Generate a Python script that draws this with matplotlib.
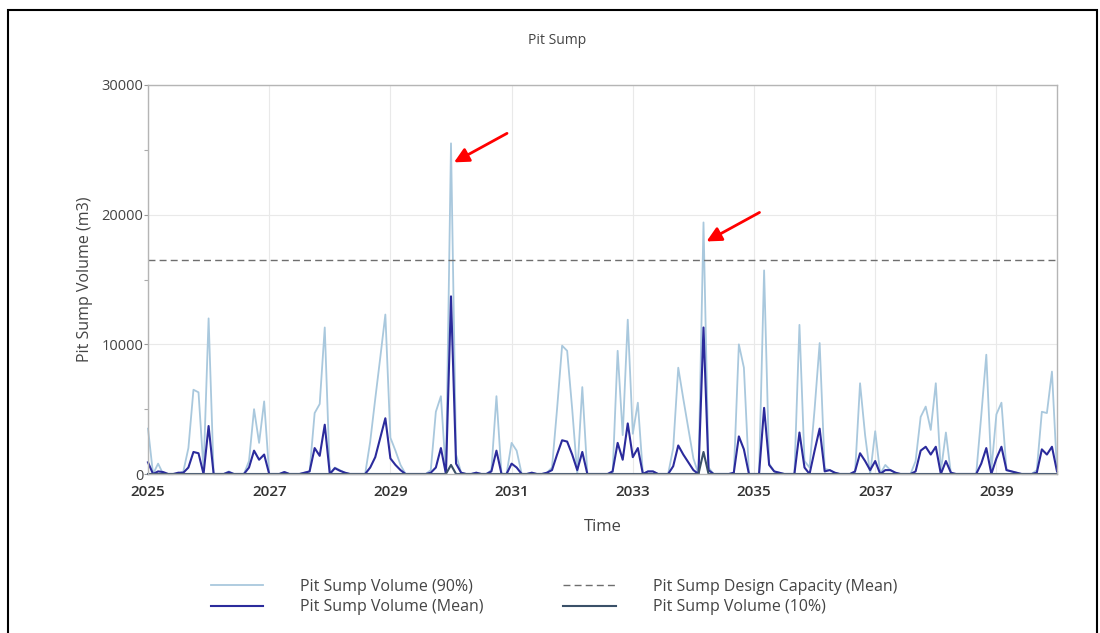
import matplotlib.pyplot as plt
from matplotlib.patches import Rectangle
from matplotlib.transforms import offset_copy


START_YEAR = 2025
YEAR_TICKS = [2025, 2027, 2029, 2031, 2033, 2035, 2037, 2039]

# monthly values, one row per year (Jan..Dec), last row = Jan 2040
SUMP_P90 = [
	3500, 0, 800, 0, 0, 0, 0, 200, 2000, 6500, 6300, 300,
	12000, 0, 0, 0, 200, 0, 0, 0, 1000, 5000, 2400, 5600,
	0, 0, 0, 150, 0, 0, 0, 100, 200, 4700, 5400, 11300,
	0, 500, 300, 100, 0, 0, 0, 0, 2500, 5800, 9000, 12300,
	2800, 1800, 700, 0, 0, 0, 0, 0, 300, 4800, 6000, 0,
	25500, 1500, 100, 0, 0, 100, 0, 0, 300, 6000, 0, 0,
	2400, 1800, 0, 0, 100, 0, 0, 100, 500, 5000, 9900, 9500,
	5000, 0, 6700, 0, 0, 0, 0, 0, 0, 9500, 3000, 11900,
	3100, 5500, 0, 200, 200, 0, 0, 0, 2000, 8200, 5800, 3500,
	1200, 0, 19400, 500, 0, 0, 0, 0, 0, 10000, 8200, 0,
	0, 0, 15700, 800, 200, 100, 0, 0, 0, 11500, 1000, 500,
	5000, 10100, 400, 300, 100, 0, 0, 0, 0, 7000, 3000, 0,
	3300, 0, 700, 300, 100, 0, 0, 0, 1000, 4400, 5200, 3400,
	7000, 200, 3200, 0, 0, 0, 0, 0, 0, 4500, 9200, 300,
	4600, 5500, 300, 200, 100, 0, 0, 0, 300, 4800, 4700, 7900,
	200,
]

SUMP_MEAN = [
	900, 0, 200, 150, 0, 0, 100, 100, 500, 1700, 1600, 0,
	3700, 0, 0, 0, 150, 0, 0, 0, 500, 1800, 1100, 1500,
	0, 0, 0, 150, 0, 0, 0, 100, 200, 2000, 1400, 3800,
	0, 450, 250, 100, 0, 0, 0, 0, 500, 1300, 2800, 4300,
	1200, 700, 300, 0, 0, 0, 0, 0, 100, 500, 2000, 0,
	13700, 800, 100, 0, 0, 100, 0, 0, 200, 1800, 0, 0,
	800, 500, 0, 0, 100, 0, 0, 100, 300, 1500, 2600, 2500,
	1500, 300, 1700, 0, 0, 0, 0, 0, 200, 2400, 1100, 3900,
	1300, 2000, 0, 200, 200, 0, 0, 0, 600, 2200, 1500, 900,
	300, 0, 11300, 300, 0, 0, 0, 0, 100, 2900, 1900, 0,
	0, 0, 5100, 700, 200, 100, 0, 0, 0, 3200, 500, 0,
	1800, 3500, 200, 300, 100, 0, 0, 0, 200, 1600, 1000, 300,
	1000, 0, 300, 300, 100, 0, 0, 0, 200, 1800, 2100, 1500,
	2100, 0, 1000, 100, 0, 0, 0, 0, 0, 800, 2000, 0,
	1200, 2100, 300, 200, 100, 0, 0, 0, 100, 1900, 1500, 2100,
	200,
]

SUMP_P10 = [
	0, 0, 0, 0, 0, 0, 0, 0, 0, 0, 0, 0,
	0, 0, 0, 0, 0, 0, 0, 0, 0, 0, 0, 0,
	0, 0, 0, 0, 0, 0, 0, 0, 0, 0, 0, 0,
	0, 0, 0, 0, 0, 0, 0, 0, 0, 0, 0, 0,
	0, 0, 0, 0, 0, 0, 0, 0, 0, 0, 0, 0,
	700, 0, 0, 0, 0, 0, 0, 0, 0, 0, 0, 0,
	0, 0, 0, 0, 0, 0, 0, 0, 0, 0, 0, 0,
	0, 0, 0, 0, 0, 0, 0, 0, 0, 0, 0, 0,
	0, 0, 0, 0, 0, 0, 0, 0, 0, 0, 0, 0,
	0, 0, 1700, 0, 0, 0, 0, 0, 0, 0, 0, 0,
	0, 0, 0, 0, 0, 0, 0, 0, 0, 0, 0, 0,
	0, 0, 0, 0, 0, 0, 0, 0, 0, 0, 0, 0,
	0, 0, 0, 0, 0, 0, 0, 0, 0, 0, 0, 0,
	0, 0, 0, 0, 0, 0, 0, 0, 0, 0, 0, 0,
	0, 0, 0, 0, 0, 0, 0, 0, 0, 0, 0, 0,
	0,
]

DESIGN_CAPACITY = 16500

LABELS = ['Pit Sump Volume (90%)', 'Pit Sump Volume (Mean)',
	'Pit Sump Design Capacity (Mean)', 'Pit Sump Volume (10%)']

plt.rcParams['font.family'] = ['Open Sans', 'DejaVu Sans']

months = [START_YEAR + i / 12 for i in range(len(SUMP_MEAN))]

fig = plt.figure(figsize=(11, 6.33), dpi=100)
ax = fig.add_axes([148/1100, 1 - 474/633, 909/1100, 389/633])

l90, = ax.plot(months, SUMP_P90, color='#a9c8dd', lw=1.3, clip_on=False)
lcap, = ax.plot(months, [DESIGN_CAPACITY] * len(months), color='#6e6e6e',
	lw=1.0, linestyle=(0, (5, 3)))
lmean, = ax.plot(months, SUMP_MEAN, color='#2b2b9c', lw=1.5, clip_on=False)
l10, = ax.plot(months, SUMP_P10, color='#3a5068', lw=1.5, clip_on=False)

ax.set_xlim(2025, 2040)
ax.set_ylim(0, 30000)
ax.set_xticks(YEAR_TICKS)
ax.set_yticks([0, 10000, 20000, 30000])
ax.set_yticks([5000, 15000, 25000], minor=True)
ax.tick_params(axis='x', length=0, pad=8, labelsize=11, labelcolor='#333333')
ax.tick_params(axis='y', length=3, width=0.8, color='#999999', pad=0.5,
	labelsize=10.5, labelcolor='#444444')
ax.tick_params(axis='y', which='minor', length=3, width=0.8, color='#aaaaaa')
for lbl in ax.get_xticklabels():
	lbl.set_fontweight('semibold')

ax.grid(True, color='#e9e9e9', lw=0.8)
ax.set_axisbelow(True)
for side in ['top', 'right', 'left', 'bottom']:
	ax.spines[side].set_color('#b5b5b5')
	ax.spines[side].set_linewidth(1.0)

ax.set_xlabel('Time', fontsize=12, color='#444444', va='center')
ax.xaxis.set_label_coords(0.5, -(527 - 474) / 389)
ax.set_ylabel('Pit Sump Volume (m3)', fontsize=11.5, color='#444444', va='center')
ax.yaxis.set_label_coords(-(148 - 85) / 909, 0.5)

fig.text(557 / 1100, 1 - 40 / 633, 'Pit Sump', ha='center',
	va='center', fontsize=10, color='#444444')

# red arrows pointing at the two highest 90% peaks
for peak in [60, 110]:
	tip = offset_copy(ax.transData, fig=fig, x=3, y=-19, units='dots')
	ax.annotate('', xy=(months[peak], SUMP_P90[peak]), xycoords=tip,
		xytext=(53, 29), textcoords='offset pixels',
		arrowprops=dict(arrowstyle='-|>', color='red', lw=2,
			mutation_scale=22, shrinkA=0, shrinkB=0))

fig.legend([l90, lmean, lcap, l10], LABELS, ncol=2, loc='center',
	bbox_to_anchor=(554/1100, 1 - 597/633), frameon=False, fontsize=11.5,
	handlelength=3.3, handletextpad=2.3, columnspacing=5.0,
	labelspacing=0.3, labelcolor='#444444')

fig.add_artist(Rectangle((8/1100, -0.05), 1089/1100, 1 - 10/633 + 0.05,
	transform=fig.transFigure, fill=False, edgecolor='black', lw=1.5,
	clip_on=False))

fig.savefig('out.png', dpi=100)
